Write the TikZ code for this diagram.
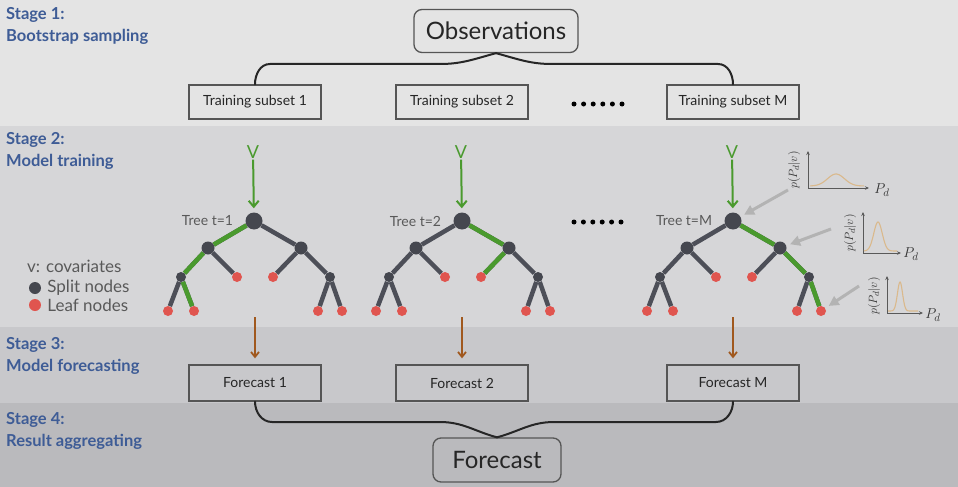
\documentclass[tikz,border=0pt]{standalone}
\usepackage{fontspec}
\setmainfont{Lato}
\usetikzlibrary{positioning, arrows.meta, calc}

\definecolor{bandA}{HTML}{E4E4E4}
\definecolor{bandB}{HTML}{D6D6D8}
\definecolor{bandC}{HTML}{C8C8CB}
\definecolor{bandD}{HTML}{BABABD}
\definecolor{stageblue}{HTML}{3E5C96}
\definecolor{boxgray}{HTML}{555555}
\definecolor{splitgray}{HTML}{45474F}
\definecolor{edgegray}{HTML}{4D4F58}
\definecolor{leafred}{HTML}{E0554F}
\definecolor{pathgreen}{HTML}{4A9A2E}
\definecolor{forebrown}{HTML}{A0581E}
\definecolor{hintgray}{HTML}{B3B3B3}
\definecolor{curvetan}{HTML}{DAB98C}

\begin{document}
\begin{tikzpicture}[
    x=1pt, y=-1pt,
    stage/.style={anchor=west, align=left, text=stageblue, inner sep=0pt, font=\bfseries\fontsize{16.5}{22}\selectfont},
    box/.style={rectangle, draw=boxgray, line width=1.3pt, minimum width=132pt, minimum height=34pt, text=black!85, font=\fontsize{14}{16}\selectfont},
    bigbox/.style={box, rounded corners=8pt, font=\fontsize{24}{28}\selectfont},
    split/.style={circle, fill=splitgray, inner sep=0pt, minimum size=10pt},
    leaf/.style={circle, fill=leafred, inner sep=0pt, minimum size=10pt},
    treeedge/.style={line width=4.5pt, draw=edgegray},
    greenedge/.style={line width=4.5pt, draw=pathgreen},
    treelabel/.style={text=black!65, inner sep=0pt, font=\fontsize{14}{16}\selectfont},
    legend/.style={text=black!65, inner sep=0pt, font=\fontsize{17}{19}\selectfont},
    vlabel/.style={text=pathgreen, inner sep=1pt, font=\fontsize{18}{20}\selectfont},
    greenarrow/.style={-{Straight Barb[length=6pt,width=10pt]}, line width=2pt, draw=pathgreen},
    brownarrow/.style={-{Straight Barb[length=5pt,width=8pt]}, line width=1.8pt, draw=forebrown},
    hintarrow/.style={-{Triangle[length=10pt,width=10pt]}, line width=3pt, draw=hintgray, shorten >=4pt},
    brace/.style={line width=2pt, draw=black!85, line cap=round},
    axis/.style={{Stealth[length=4pt,width=3.5pt]}-{Stealth[length=4pt,width=3.5pt]}, line width=0.9pt, draw=black!65},
    curve/.style={line width=1.1pt, draw=curvetan},
    plabel/.style={inner sep=0pt, text=black!80, font=\fontsize{13}{14}\selectfont},
    pd/.style={inner sep=0pt, text=black!80, font=\fontsize{15}{18}\selectfont}
]
\useasboundingbox (0,0) rectangle (958,487);

% stage bands
\fill[bandA] (0,0) rectangle (958,126);
\fill[bandB] (0,126) rectangle (958,327);
\fill[bandC] (0,327) rectangle (958,403);
\fill[bandD] (0,403) rectangle (958,487);

\node[stage] (stage1) at (6,26) {Stage 1:\\Bootstrap sampling};
\node[stage] (stage2) at (6,151) {Stage 2:\\Model training};
\node[stage] (stage3) at (6,356) {Stage 3:\\Model forecasting};
\node[stage] (stage4) at (6,431) {Stage 4:\\Result aggregating};

% stage 1
\node[bigbox, minimum width=164pt, minimum height=43pt] (obs) at (496,31) {Observations};
\node[box] (sub1) at (255,102) {Training subset 1};
\node[box] (sub2) at (462,102) {Training subset 2};
\node[box] (sub3) at (733,102) {Training subset M};
\foreach \i in {0,...,5}
  \fill (574+\i*9.6,104) circle (2.5pt);

\draw[brace] (obs.south) to[out=195,in=0] (440,64) -- (270,64) to[out=180,in=90] (sub1.north);
\draw[brace] (obs.south) to[out=-15,in=180] (552,64) -- (718,64) to[out=0,in=90] (sub3.north);

% stage 2: trees
\foreach \t/\cx/\name in {1/254/1, 2/462/2, 3/733/M} {
  \node[split, minimum size=17pt] (n\t-T) at (\cx,221) {};
  \node[split, minimum size=13pt] (n\t-L) at (\cx-46,248) {};
  \node[split, minimum size=13pt] (n\t-R) at (\cx+47,248) {};
  \node[split] (n\t-LL) at (\cx-73,277) {};
  \node[leaf] (n\t-LR) at (\cx-17,277) {};
  \node[leaf] (n\t-RL) at (\cx+19,277) {};
  \node[split] (n\t-RR) at (\cx+76,277) {};
  \node[leaf] (n\t-LLa) at (\cx-86,311) {};
  \node[leaf] (n\t-LLb) at (\cx-60,311) {};
  \node[leaf] (n\t-RRa) at (\cx+64,311) {};
  \node[leaf] (n\t-RRb) at (\cx+88,311) {};
  \foreach \a/\b in {T/L, T/R, L/LL, L/LR, R/RL, R/RR, LL/LLa, LL/LLb, RR/RRa, RR/RRb}
    \draw[treeedge] (n\t-\a) -- (n\t-\b);
  \node[treelabel, left=12pt of n\t-T] (tree\t) {Tree t=\name};
  \node[vlabel] (v\t) at (\cx-1,152) {V};
  \draw[greenarrow, shorten >=4pt] (v\t) -- (n\t-T);
}

% paths taken by v
\draw[greenedge] (n1-T) -- (n1-L);
\draw[greenedge] (n1-L) -- (n1-LL);
\draw[greenedge] (n1-LL) -- (n1-LLb);
\draw[greenedge] (n2-T) -- (n2-R);
\draw[greenedge] (n2-R) -- (n2-RL);
\draw[greenedge] (n3-T) -- (n3-R);
\draw[greenedge] (n3-R) -- (n3-RR);
\draw[greenedge] (n3-RR) -- (n3-RRb);

\foreach \i in {0,...,5}
  \fill (574+\i*9.4,222) circle (2.5pt);

% legend
\node[legend, anchor=west] (keyv) at (27,266) {v: covariates};
\node[split, minimum size=12pt] (keysplit) at (35,288) {};
\node[leaf, minimum size=12pt] (keyleaf) at (35,305) {};
\node[legend, right=6pt of keysplit] (keysplittext) {Split nodes};
\node[legend, right=6pt of keyleaf] (keyleaftext) {Leaf nodes};

% leaf distributions
\draw[axis] (808,151) |- (869,188);
\draw[curve] plot[domain=810:864, samples=60] (\x, {186-12*exp(-((\x-836)/12)*((\x-836)/12))});
\node[plabel, rotate=90] (pl1) at (794,170) {$p(P_d|v)$};
\node[pd] (pd1) at (882,190) {$P_d$};

\draw[axis] (863,212) |- (901,253);
\draw[curve] plot[domain=864:897, samples=60] (\x, {251-29*exp(-((\x-878)/6)*((\x-878)/6))});
\node[plabel, rotate=90] (pl2) at (850,233) {$p(P_d|v)$};
\node[pd] (pd2) at (911,254) {$P_d$};

\draw[axis] (887,276) |- (923,313);
\draw[curve] plot[domain=888:918, samples=60] (\x, {311-29*exp(-((\x-900)/3.6)*((\x-900)/3.6))});
\node[plabel, rotate=90] (pl3) at (874,296) {$p(P_d|v)$};
\node[pd] (pd3) at (933,315) {$P_d$};

\coordinate (hint1) at (788,190);
\coordinate (hint2) at (831,229);
\coordinate (hint3) at (859,286);
\draw[hintarrow] (hint1) -- (n3-T);
\draw[hintarrow] (hint2) -- (n3-R);
\draw[hintarrow] (hint3) -- (n3-RRb);

% stage 3
\node[box, minimum height=36pt] (fc1) at (255,383) {Forecast 1};
\node[box, minimum height=36pt] (fc2) at (462,383) {Forecast 2};
\node[box, minimum height=36pt] (fc3) at (733,383) {Forecast M};
\foreach \t/\cx in {1/255, 2/462, 3/733} {
  \coordinate (b\t) at (\cx,317);
  \draw[brownarrow, shorten >=6pt] (b\t) -- (fc\t);
}

% stage 4
\node[bigbox, minimum width=128pt, minimum height=44pt] (fin) at (497,460) {Forecast};
\draw[brace] (fc1.south) to[out=-90,in=180] (272,422) -- (440,422) to[out=0,in=165] (fin.north);
\draw[brace] (fc3.south) to[out=-90,in=0] (716,422) -- (554,422) to[out=180,in=15] (fin.north);
\end{tikzpicture}
\end{document}
